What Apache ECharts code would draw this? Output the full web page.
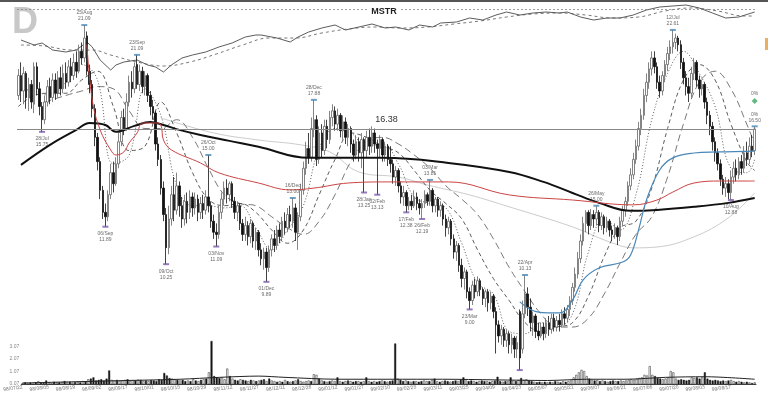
<!DOCTYPE html>
<html>
<head>
<meta charset="utf-8">
<title>MSTR</title>
<script src="https://cdn.jsdelivr.net/npm/echarts@6/dist/echarts.min.js"></script>
<style>
  html, body { margin: 0; padding: 0; background: #fff; }
  #main { width: 768px; height: 395px; }
</style>
</head>
<body>
<div id="main"></div>
<script>
// x-axis tick labels, one every 10 trading days
var tickLabels = ['98/07/22','98/08/05','98/08/19','98/09/02','98/09/17','98/10/01','98/10/15','98/10/29',
  '98/11/12','98/11/27','98/12/11','98/12/28','99/01/12','99/01/27','99/02/10','99/02/25','99/03/11',
  '99/03/25','99/04/09','99/04/23','99/05/07','99/05/21','99/06/07','99/06/21','99/07/06','99/07/20',
  '99/08/03','99/08/17'];

// daily candles: [open, close, low, high]
var ohlc = [
  [17.9,18.8,17.7,19.1],[18.8,18.1,17.6,19.4],[18.1,18.9,17.5,19.2],[18.9,17.8,17.3,19.0],[17.8,18.4,17.2,18.7],
  [18.4,17.6,17.3,18.6],[17.5,19.2,17.1,19.4],[19.2,18.2,17.9,19.4],[18.2,17.4,17.0,18.5],[17.4,16.8,16.25,17.6],
  [16.8,17.6,16.6,17.9],[17.6,18.3,17.4,18.6],[18.3,17.8,17.5,18.7],[17.8,18.6,17.6,18.9],[18.6,18.0,17.7,18.9],
  [18.0,18.7,17.8,19.0],[18.7,18.2,17.9,19.2],[18.2,18.9,18.0,19.3],[18.9,18.5,18.2,19.4],[18.5,19.2,18.3,19.5],
  [19.2,18.8,18.5,19.6],[18.8,19.4,18.6,19.8],[19.4,19.0,18.7,19.9],[19.0,19.9,18.9,20.2],[19.9,19.6,19.3,20.3],
  [19.6,20.5,19.4,21.09],[20.6,19.0,18.8,20.8],[19.0,18.4,18.0,19.3],[18.4,17.3,16.9,18.6],[17.3,16.0,15.6,17.5],
  [16.0,14.9,14.5,16.2],[14.9,13.6,13.2,15.1],[13.6,12.6,12.3,13.8],[12.6,12.4,11.95,13.0],[12.4,13.4,12.2,13.6],
  [13.4,14.4,13.2,14.8],[14.4,13.9,13.5,14.9],[13.9,14.8,13.8,15.1],[14.8,15.8,14.6,16.2],[15.8,16.9,15.6,17.2],
  [16.9,16.4,16.1,17.3],[16.4,17.6,16.3,18.0],[17.6,18.5,17.4,18.8],[18.5,18.2,17.8,19.0],[18.2,19.2,18.0,19.4],
  [19.3,18.4,18.2,19.74],[18.4,19.0,18.1,19.3],[19.0,18.3,18.0,19.2],[18.3,18.8,17.9,19.0],[18.8,17.9,17.6,18.9],
  [17.9,17.4,17.0,18.1],[17.4,17.1,16.8,17.7],[17.1,15.7,15.4,17.2],[15.7,15.0,14.7,16.0],[15.0,13.7,13.4,15.2],
  [13.7,12.5,12.2,14.0],[12.5,11.0,10.25,12.8],[11.0,12.3,10.7,12.9],[12.3,13.4,12.0,13.8],[13.4,12.7,12.2,14.2],
  [12.7,13.8,12.5,14.4],[13.8,12.9,12.4,14.0],[12.9,12.3,11.9,13.3],[12.3,13.1,12.0,13.4],[13.1,12.6,12.1,13.5],
  [12.6,13.3,12.3,13.6],[13.3,12.8,12.4,13.5],[12.8,13.2,12.5,13.5],[13.2,12.6,12.2,13.4],[12.6,13.0,12.3,13.3],
  [13.0,12.7,12.3,13.4],[12.7,13.3,12.5,13.6],[13.3,12.9,12.6,15.2],[12.9,12.2,11.9,13.1],[12.2,11.7,11.4,12.5],
  [11.7,11.6,11.05,12.1],[11.6,12.6,11.4,12.9],[12.6,13.2,12.3,13.5],[13.2,13.7,12.9,14.0],[13.7,13.4,13.0,14.1],
  [13.4,13.9,13.1,14.0],[13.9,13.1,12.8,14.0],[13.1,12.6,12.3,13.3],[12.6,12.9,12.2,13.1],[12.9,12.1,11.8,13.0],
  [12.1,11.6,11.3,12.3],[11.6,12.0,11.3,12.4],[12.0,11.5,11.1,12.2],[11.5,12.1,11.2,12.3],[12.1,11.3,11.0,12.2],
  [11.3,11.7,10.9,11.9],[11.7,10.9,10.6,11.8],[10.9,10.5,10.2,11.2],[10.5,10.8,10.0,11.0],[10.8,10.1,9.45,11.0],
  [10.1,10.9,9.9,11.1],[10.9,11.4,10.6,11.6],[11.4,11.1,10.8,11.8],[11.1,11.8,10.9,12.0],[11.8,11.5,11.2,12.1],
  [11.5,12.2,11.3,12.4],[12.2,11.9,11.6,12.6],[11.9,12.5,11.7,12.8],[12.5,12.2,11.9,12.9],[12.2,12.8,11.9,13.25],
  [12.8,11.7,11.3,13.0],[11.7,12.4,10.9,12.6],[12.4,13.6,12.2,13.9],[13.6,14.6,13.4,14.9],[14.6,15.5,14.3,15.8],
  [15.5,15.1,14.8,16.2],[15.1,16.4,14.9,16.9],[16.4,16.8,16.0,17.7],[16.8,15.0,14.7,17.0],[15.0,16.2,14.8,16.5],
  [16.2,15.4,15.1,16.6],[15.4,16.5,15.2,16.8],[16.5,15.9,15.5,16.8],[15.9,16.9,15.7,17.2],[16.9,17.2,16.5,17.5],
  [17.2,16.6,16.3,17.4],[16.6,17.0,16.3,17.3],[17.0,16.3,16.0,17.1],[16.3,16.7,15.9,17.0],[16.7,16.0,15.7,16.9],
  [16.0,16.4,15.6,16.6],[16.4,15.7,15.3,16.5],[15.7,15.2,14.9,15.9],[15.2,15.8,15.0,16.1],[15.8,15.3,14.9,16.0],
  [15.3,15.9,14.6,16.2],[15.9,15.4,13.5,16.0],[15.4,16.0,15.1,16.3],[16.0,15.6,15.2,16.4],[15.6,16.2,15.3,16.5],
  [16.2,15.7,15.3,16.4],[15.7,15.5,13.4,15.9],[15.5,15.9,15.1,16.1],[15.9,15.2,14.9,16.0],[15.2,15.6,14.9,15.8],
  [15.6,15.0,14.7,15.7],[15.0,14.8,14.4,15.6],[14.8,14.2,13.9,15.0],[14.2,14.5,13.8,14.7],[14.5,13.8,13.5,14.6],
  [13.8,13.3,13.0,14.0],[13.3,13.5,12.9,13.8],[13.5,12.9,12.6,13.6],[12.9,13.1,12.7,13.3],[13.1,12.9,12.7,13.4],
  [12.9,13.3,12.8,13.6],[13.3,13.0,12.7,13.5],[13.0,12.8,12.5,13.2],[12.8,13.0,12.3,13.2],[13.0,13.4,12.8,13.6],
  [13.4,13.1,12.9,13.5],[13.1,13.6,12.9,14.07],[13.6,12.9,12.6,13.7],[12.9,13.2,12.6,13.3],[13.2,12.7,12.4,13.3],
  [12.7,12.9,12.4,13.1],[12.9,12.3,12.0,13.0],[12.3,11.9,11.5,12.5],[11.9,12.2,11.6,12.4],[12.2,11.4,11.1,12.3],
  [11.4,10.8,10.5,11.6],[10.8,11.1,10.4,11.3],[11.1,10.2,9.9,11.2],[10.2,9.6,9.2,10.5],[9.6,9.9,9.1,10.1],
  [9.9,9.0,8.7,10.0],[9.0,8.6,8.2,9.2],[8.6,9.3,8.4,9.5],[9.3,9.0,8.7,9.6],[9.0,9.5,8.8,9.7],
  [9.5,9.1,8.8,9.6],[9.1,8.7,8.4,9.2],[8.7,9.0,8.3,9.1],[9.0,8.5,8.1,9.1],[8.5,8.8,8.2,9.0],
  [8.8,8.1,7.8,8.9],[8.1,7.5,6.2,8.3],[7.5,7.0,6.7,7.7],[7.0,7.3,6.6,7.5],[7.3,6.8,6.5,7.4],
  [6.8,7.1,6.5,7.3],[7.1,6.6,6.2,7.2],[6.6,6.9,6.2,7.1],[6.9,6.4,6.0,7.0],[6.4,6.7,6.0,7.0],
  [8.1,6.0,5.45,8.2],[6.4,8.0,6.2,8.6],[8.0,8.9,7.8,9.76],[8.9,8.3,7.9,9.2],[8.3,7.6,7.2,8.7],
  [7.6,7.9,7.0,8.1],[7.9,7.2,6.9,8.0],[7.2,7.0,6.8,7.6],[7.0,7.4,6.9,7.6],[7.4,7.1,6.8,7.6],
  [7.1,7.6,6.9,7.8],[7.6,7.3,7.0,7.9],[7.3,7.8,7.1,8.0],[7.8,7.4,7.2,8.0],[7.4,7.7,7.2,7.9],
  [7.7,7.5,7.2,8.0],[7.5,8.0,7.4,8.2],[8.0,7.8,7.5,8.3],[7.8,8.2,7.6,8.4],[8.2,8.6,7.9,8.8],
  [8.6,9.2,8.4,9.4],[9.2,9.8,9.0,10.1],[9.8,10.5,9.6,10.8],[10.5,11.3,10.3,11.6],[11.3,12.1,11.1,12.4],
  [12.1,12.6,11.7,12.7],[12.6,12.0,11.6,12.7],[12.0,12.5,11.8,12.75],[12.5,12.3,11.9,12.7],[12.3,12.6,12.0,12.9],
  [12.6,12.0,11.7,12.7],[12.0,12.4,11.8,12.6],[12.4,11.9,11.6,12.5],[11.9,12.2,11.7,12.4],[12.2,11.8,11.5,12.3],
  [11.8,11.6,11.3,12.0],[11.6,11.9,11.4,12.1],[11.9,11.5,11.12,12.0],[11.5,12.2,11.3,12.4],[12.2,12.7,12.0,12.9],
  [12.7,13.1,12.4,13.3],[13.1,13.8,12.9,14.0],[13.8,14.3,13.6,14.6],[14.3,15.0,14.1,15.3],[15.0,15.6,14.8,15.9],
  [15.6,16.4,15.4,16.7],[16.4,17.0,16.1,17.3],[17.0,17.9,16.8,18.2],[17.9,18.5,17.6,18.9],[18.5,19.1,18.2,19.4],
  [19.1,19.6,18.8,19.9],[19.6,19.2,18.9,19.9],[19.2,18.5,18.2,19.4],[18.5,18.1,17.8,18.8],[18.1,18.8,17.9,19.0],
  [18.8,19.3,18.5,19.5],[19.3,19.8,19.0,20.1],[19.8,20.1,19.5,20.4],[20.1,20.3,19.8,20.87],[20.3,20.5,20.0,20.7],
  [20.5,20.2,19.9,20.6],[20.2,19.4,19.1,20.4],[19.4,18.7,18.4,19.6],[18.7,18.3,17.9,19.0],[18.3,18.0,17.6,18.7],
  [18.0,18.9,17.8,19.2],[18.9,19.4,18.6,19.6],[19.4,18.6,18.3,19.5],[18.6,18.2,17.8,18.8],[18.2,18.4,17.9,18.6],
  [18.4,17.6,17.3,18.5],[17.6,17.0,16.6,17.8],[17.0,16.5,16.1,17.2],[16.5,15.8,15.4,16.7],[15.8,15.3,14.9,16.0],
  [15.3,14.8,14.5,15.5],[14.8,14.1,13.8,15.0],[14.1,13.7,13.4,14.3],[13.7,13.9,13.3,14.2],[13.9,13.5,13.2,14.1],
  [13.5,14.2,13.16,14.5],[14.2,14.6,13.9,14.9],[14.6,14.3,14.0,15.0],[14.3,14.9,14.1,15.1],[14.9,14.6,14.3,15.2],
  [14.6,15.3,14.4,15.6],[15.3,15.0,14.7,15.8],[15.0,15.6,14.8,16.0],[15.6,15.4,15.1,16.1],[15.4,16.38,15.2,16.5]
];

// volume (millions)
var volume = [
  0.15,0.2,0.12,0.18,0.1,0.22,0.3,0.18,0.15,0.35, 0.2,0.15,0.25,0.18,0.2,0.22,0.3,0.2,0.25,0.18,
  0.22,0.25,0.2,0.3,0.28,0.45,0.5,0.6,0.35,0.4, 0.45,0.35,0.5,1.15,0.4,0.35,0.4,0.3,0.35,0.4,
  0.45,0.3,0.38,0.35,0.42,0.4,0.3,0.35,0.3,0.38, 0.35,0.3,0.45,0.4,0.95,0.75,0.55,0.5,0.45,0.4,
  0.35,0.4,0.3,0.35,0.3,0.45,0.35,0.3,0.4,0.45, 0.5,1.0,3.5,0.7,0.6,0.55,0.6,0.45,1.3,0.7,
  0.5,0.4,0.35,0.45,0.4,0.35,0.3,0.4,0.35,0.3, 0.35,0.4,0.45,0.3,0.5,0.35,0.3,0.25,0.3,0.25,
  0.4,0.3,0.25,0.3,0.35,0.45,0.3,0.25,0.3,0.35, 0.3,0.85,0.8,0.5,0.35,0.3,0.25,0.3,0.35,0.3,
  0.6,0.3,0.25,0.3,0.35,0.3,0.25,0.3,0.3,0.25, 0.3,0.6,0.3,0.25,0.3,0.25,0.3,0.35,0.3,0.25,
  0.3,0.35,3.3,0.5,0.4,0.3,0.35,0.3,0.25,0.3, 0.3,0.25,0.3,0.35,0.3,0.3,0.4,0.5,0.3,0.25,
  0.3,0.35,0.3,0.25,0.3,0.35,0.3,0.4,0.6,0.35, 0.3,0.35,0.3,0.25,0.3,0.35,0.3,0.3,0.25,0.3,
  0.35,0.65,0.3,0.25,0.3,0.3,0.6,0.35,0.3,0.4, 0.55,0.4,0.45,0.35,0.3,0.25,0.2,0.25,0.2,0.25,
  0.2,0.25,0.2,0.3,0.25,0.2,0.3,0.25,0.3,0.35, 0.6,0.8,1.0,1.2,1.1,0.7,0.5,0.4,0.35,0.4,
  0.3,0.35,0.3,0.25,0.3,0.35,0.3,0.3,0.35,0.3, 0.35,0.4,0.45,0.4,0.5,0.55,0.6,0.8,0.75,1.5,
  0.8,0.7,0.55,0.5,0.45,0.5,0.6,1.1,1.0,0.5, 0.4,0.45,0.4,0.35,0.4,0.6,0.55,0.6,0.5,0.6,
  1.0,0.5,0.4,0.35,0.4,0.35,0.3,0.35,0.3,0.35, 0.4,0.3,0.25,0.3,0.25,0.2,0.25,0.2,0.15,0.2
];
var volumeAvg = [[0,0.15],[20,0.25],[40,0.35],[60,0.45],[75,0.6],[90,0.7],[100,0.6],[120,0.45],[140,0.45],
  [160,0.45],[180,0.4],[200,0.35],[215,0.45],[230,0.45],[245,0.6],[260,0.65],[279,0.45]];

// moving averages, [day index, price]
var ma200 = [[1,14.75],[12,15.66],[22,16.34],[27,16.65],[33,16.56],[37,16.25],[44,16.52],[50,16.7],[55,16.56],
  [61,16.34],[69,16.11],[80,15.84],[91,15.57],[110,15.07],[122,15.07],[138,15.07],[163,14.84],[186,14.43],
  [199,13.98],[210,13.48],[220,13.03],[232,12.67],[242,12.71],[256,12.85],[269,13.03],[279,13.25]];
var ma50 = [[26,20.2],[28,17.7],[31,16.34],[35,15.43],[37,15.2],[40,15.34],[42,15.75],[45,16.2],[47,16.65],
  [52,16.65],[54,16.56],[55,15.88],[58,15.43],[69,14.84],[76,14.39],[91,13.93],[103,13.62],[112,13.7],
  [125,13.93],[140,13.98],[163,13.98],[186,13.39],[210,13.16],[233,12.94],[242,13.16],[248,13.52],
  [256,13.93],[266,14.02],[279,14.02]];
var ma100 = [[54,16.88],[74,16.2],[91,15.88],[107,15.66],[118,15.34],[129,14.43],[144,14.2],[155,13.84],
  [171,13.39],[186,12.85],[210,11.94],[224,11.26],[233,10.99],[242,11.03],[256,11.49],[269,12.35],[279,13.48]];
var ma21 = [[190,8.54],[197,8.08],[205,8.04],[210,8.63],[214,9.54],[220,10.08],[229,10.35],[232,10.67],
  [235,11.8],[238,13.16],[243,14.52],[248,15.07],[256,15.29],[265,15.34],[279,15.38]];
var ma10 = [[0,18.2],[6,18.1],[12,17.9],[18,18.5],[24,19.3],[30,18.6],[36,14.8],[42,15.2],[48,18.2],[54,17.0],
  [60,13.8],[66,12.9],[72,12.9],[78,12.8],[84,12.9],[90,11.9],[96,10.9],[102,11.8],[108,12.9],[114,15.5],
  [120,16.4],[126,16.2],[132,15.6],[138,15.7],[144,14.8],[150,13.3],[156,13.0],[162,12.8],[168,11.2],
  [174,9.4],[180,8.9],[186,7.2],[192,7.1],[198,7.6],[204,7.4],[210,8.0],[216,10.8],[222,12.3],[228,11.8],
  [234,13.4],[240,16.8],[246,18.9],[252,19.9],[258,18.9],[264,17.4],[270,14.6],[276,14.4],[279,15.0]];
var ma20 = [[0,17.4],[6,17.9],[12,18.0],[18,18.0],[24,18.6],[30,19.0],[36,17.4],[42,15.4],[48,15.6],[54,17.6],
  [60,16.2],[66,14.4],[72,13.2],[78,12.9],[84,13.0],[90,12.6],[96,11.8],[102,11.2],[108,11.8],[114,13.4],
  [120,15.0],[126,16.2],[132,16.0],[138,15.6],[144,15.3],[150,14.5],[156,13.6],[162,13.0],[168,12.3],
  [174,10.9],[180,9.6],[186,8.6],[192,7.6],[198,7.2],[204,7.4],[210,7.6],[216,8.8],[222,10.6],[228,11.9],
  [234,12.2],[240,13.7],[246,16.4],[252,18.6],[258,19.3],[264,18.6],[270,16.6],[276,14.9],[279,14.5]];
var ma30 = [[10,17.6],[18,17.9],[24,18.1],[30,18.3],[36,18.2],[42,17.2],[48,16.4],[54,16.4],[60,16.8],
  [66,16.0],[72,14.6],[78,13.4],[84,13.0],[90,12.9],[96,12.4],[102,11.9],[108,11.6],[114,12.2],[120,13.4],
  [126,14.9],[132,15.8],[138,16.0],[144,15.7],[150,15.2],[156,14.6],[162,13.8],[168,13.2],[174,12.5],
  [180,11.4],[186,10.1],[192,9.0],[198,8.0],[204,7.4],[210,7.4],[216,7.8],[222,8.9],[228,10.3],[234,11.6],
  [240,12.4],[246,14.2],[252,16.6],[258,18.5],[264,19.0],[270,18.2],[276,16.6],[279,15.7]];

// relative strength line and its average
var rs = [[1,40],[6,35],[9,37],[13,30],[18,28],[22,30],[26,38],[28,33],[31,20],[35,10],[37,15],[40,18],[45,20],
  [49,15],[52,13],[55,8],[58,15],[62,22],[66,25],[71,28],[76,33],[81,37],[86,43],[90,45],[92,45],[98,42],
  [103,38],[106,43],[110,48],[115,52],[120,55],[124,50],[129,53],[134,56],[139,52],[143,53],[148,50],[152,55],
  [157,53],[160,57],[166,58],[171,62],[176,60],[181,65],[185,68],[190,65],[195,67],[200,68],[205,67],[208,68],
  [213,63],[218,60],[223,62],[228,62],[233,65],[238,70],[243,73],[248,74],[253,75],[258,72],[263,67],[268,62],
  [273,63],[279,68]];
var rsAvg = [[1,35],[10,34],[20,30],[28,30],[35,25],[45,18],[55,14],[65,18],[75,26],[85,35],[95,42],[105,42],
  [115,47],[125,51],[135,53],[145,52],[155,53],[165,56],[175,59],[185,63],[195,66],[205,67],[215,65],[225,62],
  [235,63],[245,69],[255,72],[265,69],[275,64],[279,64]];

// swing high / low annotations
var hiIdx = [25,45,72,104,112,156,192,219,248,279];
var hiVal = [21.09,19.74,15.2,13.25,17.7,14.07,9.76,12.9,20.87,16.5];
var hiText = ['25/Aug\n21.09','23/Sep\n21.09','26/Oct\n15.00','16/Dec\n13.00','28/Dec\n17.88','03/Mar\n13.81',
  '22/Apr\n10.13','26/May\n15.00','12/Jul\n22.61','0%\n16.50'];
var loIdx = [9,33,56,75,94,131,136,147,153,171,190,270];
var loVal = [16.25,11.95,10.25,11.05,9.45,13.5,13.4,12.6,12.3,8.2,5.45,13.16];
var loText = ['28/Jul\n15.75','06/Sep\n11.89','09/Oct\n10.25','03/Nov\n11.09','01/Dec\n9.89','28/Jan\n13.25',
  '02/Feb\n13.13','17/Feb\n12.38','26/Feb\n12.19','23/Mar\n9.00','','10/Aug\n12.88'];
var lastPrice = 16.38;

var days = ohlc.map(function (d, i) { return String(i); });
var L = 17, R = 12;

var myChart = echarts.init(document.getElementById('main'), null, { renderer: 'canvas' });

function xAx(gi, show) {
  return {
    type: 'category', gridIndex: gi, data: days, boundaryGap: true,
    axisLine: { show: show, lineStyle: { color: '#444', width: 1 } },
    axisTick: { show: false },
    splitLine: { show: false },
    axisLabel: {
      show: show, interval: 9, fontSize: 5, color: '#777', rotate: 8, margin: 3,
      fontFamily: 'Liberation Sans',
      formatter: function (v) { var i = +v; return i % 10 === 0 ? tickLabels[i / 10] : ''; }
    }
  };
}

var option = {
  animation: false,
  backgroundColor: '#fff',
  title: {
    text: 'MSTR', left: 'center', top: 6, padding: [1, 3],
    backgroundColor: '#fff',
    textStyle: { fontSize: 9, fontWeight: 'bold', color: '#222', fontFamily: 'Liberation Sans' }
  },
  graphic: [
    { type: 'rect', shape: { x: 0, y: 0, width: 768, height: 2 }, style: { fill: '#555' } },
    { type: 'text', left: 12, top: 5, style: { text: 'D', fontSize: 36, fontWeight: 'bold', fill: '#c8c8c8', fontFamily: 'Liberation Sans' } },
    { type: 'rect', shape: { x: 765, y: 38, width: 3, height: 12 }, style: { fill: '#e8b060' } }
  ],
  grid: [
    { left: L, right: R, top: 5, bottom: 15 },
    { left: L, right: R, top: 0, height: 80 },
    { left: L, right: R, top: 341, bottom: 11 }
  ],
  xAxis: [xAx(0, false), xAx(1, false), xAx(2, true)],
  yAxis: [
    { gridIndex: 0, type: 'value', min: 5, max: 22, show: false, splitLine: { show: false } },
    { gridIndex: 1, type: 'value', min: 0, max: 80, show: false, splitLine: { show: false } },
    {
      gridIndex: 2, type: 'value', min: 0.07, max: 3.5, interval: 1,
      axisLine: { show: false }, axisTick: { show: false }, splitLine: { show: false },
      axisLabel: { fontSize: 5, color: '#888', margin: 2, showMaxLabel: false,
        formatter: function (v) { return v.toFixed(2); } }
    }
  ],
  series: [
    {
      type: 'candlestick', data: ohlc.map(function (d) { return [d[0], d[1], d[2], d[3]]; }),
      barWidth: 2,
      itemStyle: { color: '#fff', color0: '#111', borderColor: '#666', borderColor0: '#111', borderWidth: 0.8 },
      markLine: {
        silent: true, symbol: 'none',
        lineStyle: { color: '#888', width: 1, type: 'solid' },
        label: { position: 'middle', formatter: '16.38', fontSize: 9, color: '#333',
          backgroundColor: '#fff', padding: [0, 4], fontFamily: 'Liberation Sans' },
        data: [{ yAxis: lastPrice }]
      },
      z: 3
    },
    { type: 'line', data: ma200, symbol: 'none', smooth: 0.4, lineStyle: { color: '#111', width: 2 }, z: 4 },
    { type: 'line', data: ma50, symbol: 'none', smooth: 0.4, lineStyle: { color: '#cc4444', width: 1 }, z: 4 },
    { type: 'line', data: ma100, symbol: 'none', smooth: 0.4, lineStyle: { color: '#cccccc', width: 1 }, z: 2 },
    { type: 'line', data: ma21, symbol: 'none', smooth: 0.4, lineStyle: { color: '#4a88b8', width: 1.2 }, z: 4 },
    { type: 'line', data: ma10, symbol: 'none', smooth: 0.4, lineStyle: { color: '#333', width: 0.8, type: [1, 2] }, z: 2 },
    { type: 'line', data: ma20, symbol: 'none', smooth: 0.4, lineStyle: { color: '#333', width: 0.8, type: [4, 3] }, z: 2 },
    { type: 'line', data: ma30, symbol: 'none', smooth: 0.4, lineStyle: { color: '#555', width: 0.8, type: [7, 4] }, z: 2 },
    {
      type: 'scatter', symbol: 'rect', symbolSize: [6, 2], z: 5,
      itemStyle: { color: '#4a88b8' },
      data: hiIdx.map(function (d, k) { return { value: [d, hiVal[k]], name: hiText[k] }; }),
      label: { show: true, position: 'top', distance: 2, fontSize: 5, lineHeight: 6, color: '#444',
        fontFamily: 'Liberation Sans', formatter: function (p) { return p.name; } }
    },
    {
      type: 'scatter', symbol: 'rect', symbolSize: [6, 2], z: 5,
      itemStyle: { color: '#7a5aa8' },
      data: loIdx.map(function (d, k) { return { value: [d, loVal[k]], name: loText[k] }; }),
      label: { show: true, position: 'bottom', distance: 3, fontSize: 5, lineHeight: 6, color: '#444',
        fontFamily: 'Liberation Sans', formatter: function (p) { return p.name; } }
    },
    {
      type: 'scatter', symbol: 'diamond', symbolSize: 6, z: 5,
      itemStyle: { color: '#3aa860' },
      data: [[279, 17.65]],
      label: { show: true, position: 'top', distance: 2, fontSize: 5, color: '#444', formatter: '0%' }
    },
    {
      type: 'line', xAxisIndex: 1, yAxisIndex: 1, data: rs, symbol: 'none',
      lineStyle: { color: '#333', width: 0.8 },
      markLine: {
        silent: true, symbol: 'none', label: { show: false },
        lineStyle: { color: '#888', width: 0.8, type: [2, 2] },
        data: [{ yAxis: 71 }]
      }
    },
    { type: 'line', xAxisIndex: 1, yAxisIndex: 1, data: rsAvg, symbol: 'none', smooth: 0.4,
      lineStyle: { color: '#555', width: 0.8, type: [3, 3] } },
    {
      type: 'bar', xAxisIndex: 2, yAxisIndex: 2, data: volume, barWidth: 2,
      itemStyle: {
        borderColor: '#222', borderWidth: 0.5,
        color: function (p) { var d = ohlc[p.dataIndex]; return d[1] >= d[0] ? '#fff' : '#111'; }
      }
    },
    { type: 'line', xAxisIndex: 2, yAxisIndex: 2, data: volumeAvg, symbol: 'none', smooth: 0.3,
      lineStyle: { color: '#222', width: 1 } }
  ]
};

myChart.setOption(option);
</script>
</body>
</html>
